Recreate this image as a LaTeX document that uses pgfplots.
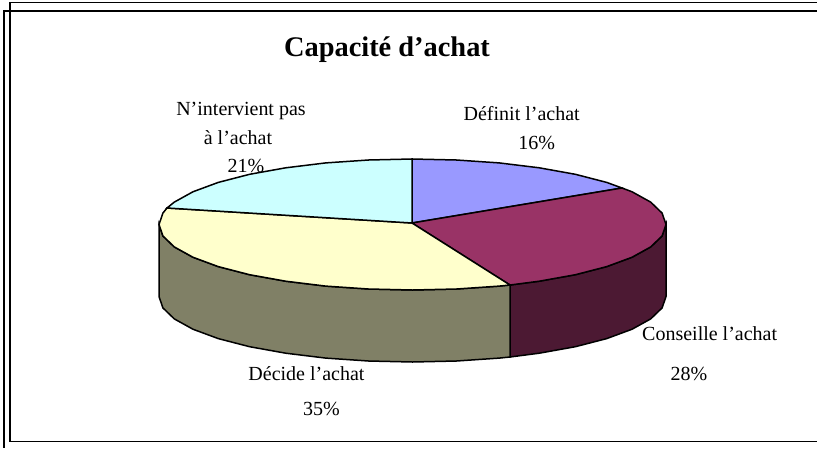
\documentclass[border=0pt]{standalone}
\usepackage{fontspec}
\setmainfont{Liberation Serif}
\usepackage{pgfplots}
\pgfplotsset{compat=1.18}
\definecolor{sliceA}{HTML}{9999FF}
\definecolor{sliceB}{HTML}{993366}
\definecolor{sliceC}{HTML}{FFFFCC}
\definecolor{sliceD}{HTML}{CCFFFF}
\definecolor{sideB}{HTML}{4C1933}
\definecolor{sideC}{HTML}{808066}
\newcommand{\lab}{\fontsize{20}{22}\selectfont}
\begin{document}
\begin{tikzpicture}
\begin{axis}[
  at={(0,0)}, anchor=south west,
  scale only axis, width=817pt, height=448pt,
  xmin=0, xmax=817, ymin=0, ymax=448, y dir=reverse,
  hide axis, clip=true,
]
  % frames
  \addplot[black, line width=1.3pt] coordinates {(817,2.7)(10,2.7)(10,441.7)(817,441.7)};
  \addplot[black, line width=1.3pt] coordinates {(817,11)(4,11)(4,448)};
  % sides
  \addplot[fill=sideB, draw=black, line width=1.5pt] coordinates {
    (666,224.5)(666,296.5)(662.1,307.9)(650.7,318.9)(632,329.25)(606.7,338.6)(575.4,346.7)(539.25,353.2)(510,357)
    (510,285)(539.25,281.2)(575.4,274.7)(606.7,266.6)(632,257.25)(650.7,246.9)(662.1,235.9)} -- cycle;
  \addplot[fill=sideC, draw=black, line width=1.5pt] coordinates {
    (510,285)(510,357)(499.2,358.1)(456.5,361)(412.5,362)(368.5,361)(325.8,358.1)(285.75,353.2)(249.6,346.7)(218.3,338.6)(193,329.25)(174.3,318.9)(162.9,307.9)(159,296.5)
    (159,224.5)(162.9,235.9)(174.3,246.9)(193,257.25)(218.3,266.6)(249.6,274.7)(285.75,281.2)(325.8,286.1)(368.5,289)(412.5,290)(456.5,289)(499.2,286.1)} -- cycle;
  % top slices
  \addplot[fill=sliceA, draw=black, line width=1.5pt] coordinates {
    (412,223)(412,159)(456.5,160)(499.2,162.9)(539.25,167.8)(575.4,174.3)(606.7,182.4)(622,188)} -- cycle;
  \addplot[fill=sliceB, draw=black, line width=1.5pt] coordinates {
    (412,223)(622,188)(632,191.75)(650.7,202.1)(662.1,213.1)(666,224.5)(662.1,235.9)(650.7,246.9)(632,257.25)(606.7,266.6)(575.4,274.7)(539.25,281.2)(510,285)} -- cycle;
  \addplot[fill=sliceC, draw=black, line width=1.5pt] coordinates {
    (412,223)(510,285)(499.2,286.1)(456.5,289)(412.5,290)(368.5,289)(325.8,286.1)(285.75,281.2)(249.6,274.7)(218.3,266.6)(193,257.25)(174.3,246.9)(162.9,235.9)(159,224.5)(162.9,213.1)(167,208)} -- cycle;
  \addplot[fill=sliceD, draw=black, line width=1.5pt] coordinates {
    (412,223)(167,208)(174.3,202.1)(193,191.75)(218.3,182.4)(249.6,174.3)(285.75,167.8)(325.8,162.9)(368.5,160)(412,159)} -- cycle;
  % text
  \node[anchor=base] at (axis cs:387,56) {\fontsize{28.4}{32}\selectfont\bfseries Capacité d’achat};
  \node[anchor=base] at (axis cs:241,115.5) {\lab N’intervient pas};
  \node[anchor=base] at (axis cs:238,144.5) {\lab à l’achat};
  \node[anchor=base] at (axis cs:246,172.6) {\lab 21\%};
  \node[anchor=base] at (axis cs:521.7,120) {\lab Définit l’achat};
  \node[anchor=base] at (axis cs:536.7,149) {\lab 16\%};
  \node[anchor=base west, inner sep=0pt] at (axis cs:642,340.5) {\lab Conseille l’achat};
  \node[anchor=base] at (axis cs:689,380.5) {\lab 28\%};
  \node[anchor=base] at (axis cs:306.5,380.5) {\lab Décide l’achat};
  \node[anchor=base] at (axis cs:321.5,415.5) {\lab 35\%};
\end{axis}
\pgfresetboundingbox
\path[use as bounding box] (0,0) rectangle (817pt,448pt);
\end{tikzpicture}
\end{document}
